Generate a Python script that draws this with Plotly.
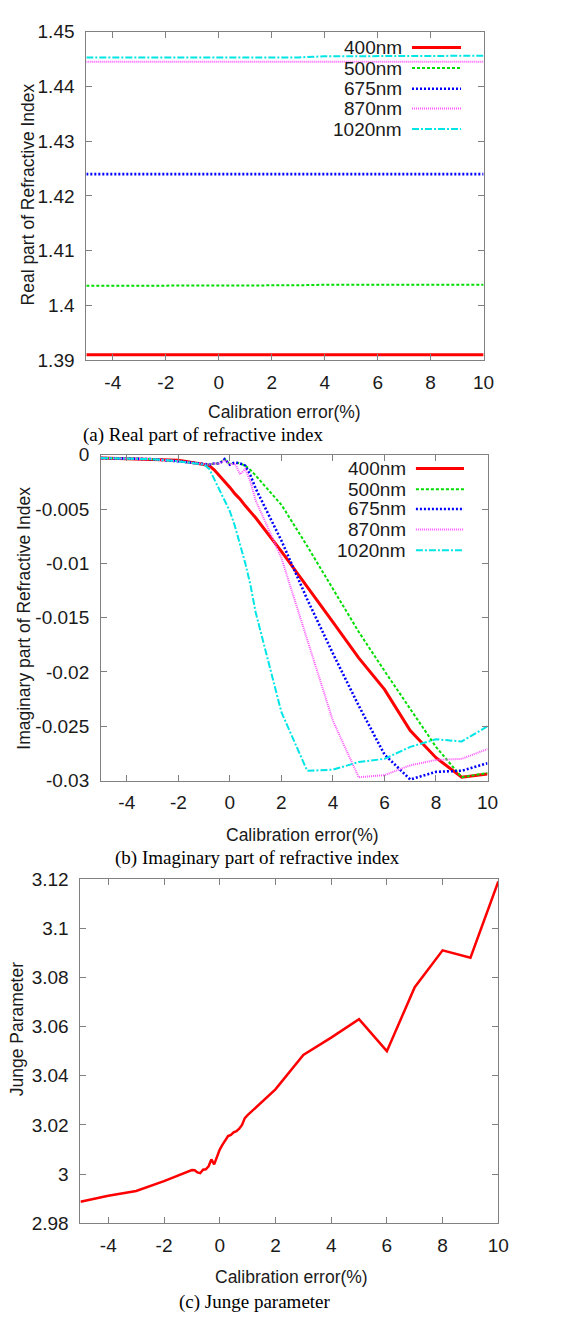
import plotly.graph_objects as go

W, H = 577, 1320

# ---------------- data ----------------
wavelengths = ["400nm", "500nm", "675nm", "870nm", "1020nm"]

# (a) real part of refractive index
x_real = [-5, -4, -3, -2, -1, 0, 1, 2, 3, 4, 5, 6, 7, 8, 9, 10]
real_400 = [1.3910, 1.3910, 1.3910, 1.3910, 1.3910, 1.3910, 1.3910, 1.3910,
            1.3910, 1.3910, 1.3910, 1.3910, 1.3910, 1.3910, 1.3910, 1.3910]
real_500 = [1.4036, 1.4036, 1.4036, 1.4036, 1.4037, 1.4037, 1.4037, 1.4037,
            1.4037, 1.4038, 1.4038, 1.4038, 1.4038, 1.4038, 1.4038, 1.4038]
real_675 = [1.4240, 1.4240, 1.4240, 1.4240, 1.4240, 1.4240, 1.4240, 1.4240,
            1.4240, 1.4240, 1.4240, 1.4240, 1.4240, 1.4240, 1.4240, 1.4240]
real_870 = [1.4445, 1.4445, 1.4445, 1.4445, 1.4445, 1.4445, 1.4445, 1.4445,
            1.4445, 1.4445, 1.4445, 1.4445, 1.4445, 1.4445, 1.4445, 1.4445]
real_1020 = [1.4453, 1.4453, 1.4453, 1.4453, 1.4453, 1.4453, 1.4453, 1.4453,
             1.4453, 1.4455, 1.4455, 1.4456, 1.4456, 1.4456, 1.4456, 1.4456]

# (b) imaginary part of refractive index
x_imag = [-5, -4, -3, -2, -1, -0.8, -0.6, -0.4, -0.2, 0, 0.2, 0.4, 0.6, 0.8,
          1, 2, 3, 4, 5, 6, 7, 8, 9, 10]
imag_400 = [-0.0003, -0.00035, -0.0004, -0.0005, -0.0009, -0.0010, -0.0014,
            -0.0019, -0.0024, -0.0030, -0.0036, -0.0041, -0.0047, -0.0052,
            -0.0058, -0.0089, -0.0121, -0.0154, -0.0187, -0.0216, -0.0254,
            -0.0279, -0.0297, -0.0294]
imag_500 = [-0.0003, -0.00035, -0.0004, -0.0006, -0.0009, -0.0009, -0.0008,
            -0.0008, -0.0004, -0.0009, -0.0007, -0.0008, -0.0010, -0.0014,
            -0.0019, -0.0046, -0.0084, -0.0124, -0.0163, -0.0199, -0.0234,
            -0.0269, -0.0297, -0.0293]
imag_675 = [-0.0003, -0.00035, -0.0004, -0.0006, -0.0009, -0.0009, -0.0008,
            -0.0008, -0.0004, -0.0009, -0.0007, -0.0008, -0.0010, -0.0019,
            -0.0031, -0.0079, -0.0133, -0.0183, -0.0231, -0.0276, -0.0299,
            -0.0292, -0.0291, -0.0284]
imag_870 = [-0.0003, -0.00035, -0.0004, -0.0006, -0.0009, -0.0009, -0.0008,
            -0.0008, -0.0005, -0.0009, -0.0008, -0.0018, -0.0013, -0.0025,
            -0.0042, -0.0095, -0.0170, -0.0245, -0.0297, -0.0295, -0.0286,
            -0.0281, -0.0280, -0.0271]
imag_1020 = [-0.0003, -0.00035, -0.0004, -0.0006, -0.0009, -0.0013, -0.0023,
             -0.0032, -0.0042, -0.0052, -0.0066, -0.0082, -0.0100, -0.0120,
             -0.0145, -0.0237, -0.0291, -0.0290, -0.0283, -0.0280, -0.0269,
             -0.0262, -0.0264, -0.0250]

# (c) Junge parameter
x_junge = [-5, -4, -3, -2, -1, -0.9, -0.8, -0.7, -0.6, -0.5, -0.4, -0.3, -0.2,
           -0.1, 0, 0.1, 0.2, 0.3, 0.4, 0.5, 0.6, 0.7, 0.8, 0.9, 1,
           2, 3, 4, 5, 6, 7, 8, 9, 10]
junge = [2.9888, 2.9912, 2.9932, 2.9972, 3.0017, 3.0016, 3.0007, 3.0004,
         3.0018, 3.0020, 3.0032, 3.0060, 3.0040, 3.0075, 3.0100, 3.0120,
         3.0135, 3.0155, 3.0160, 3.0170, 3.0175, 3.0185, 3.0200, 3.0228,
         3.0240, 3.0345, 3.0485, 3.0555, 3.0630, 3.0500, 3.0760, 3.0910,
         3.0880, 3.1190]

# ticks
x_tickvals = [-4, -2, 0, 2, 4, 6, 8, 10]
x_ticktext = ["-4", "-2", "0", "2", "4", "6", "8", "10"]
real_tickvals = [1.39, 1.40, 1.41, 1.42, 1.43, 1.44, 1.45]
real_ticktext = ["1.39", "1.4", "1.41", "1.42", "1.43", "1.44", "1.45"]
imag_tickvals = [0, -0.005, -0.01, -0.015, -0.02, -0.025, -0.03]
imag_ticktext = ["0", "-0.005", "-0.01", "-0.015", "-0.02", "-0.025", "-0.03"]
junge_tickvals = [2.98, 3.00, 3.02, 3.04, 3.06, 3.08, 3.10, 3.12]
junge_ticktext = ["2.98", "3", "3.02", "3.04", "3.06", "3.08", "3.1", "3.12"]

# ---------------- styling ----------------
SANS = "Liberation Sans, Arial, sans-serif"
SERIF = "Liberation Serif, Times New Roman, serif"
FRAME = "#808080"
TXT = "#1a1a1a"

styles = {
    "400nm": dict(color="#ff0000", width=3, dash="solid"),
    "500nm": dict(color="#00dd00", width=2, dash="3px,2px"),
    "675nm": dict(color="#0000ff", width=2.6, dash="2px,2px"),
    "870nm": dict(color="#ff55ff", width=2, dash="1px,1px"),
    "1020nm": dict(color="#00e5e5", width=2, dash="7px,2px,2px,2px"),
}


def px_x(p):
    return p / W


def px_y(p):
    return 1 - p / H


panels = {
    "a": dict(x0=88, x1=493, y0=22, y1=356),
    "b": dict(x0=103, x1=497, y0=452, y1=783),
    "c": dict(x0=82, x1=508, y0=883, y1=1233),
}

fig = go.Figure()

real_series = [real_400, real_500, real_675, real_870, real_1020]
imag_series = [imag_400, imag_500, imag_675, imag_870, imag_1020]

for name, ys in zip(wavelengths, real_series):
    fig.add_trace(go.Scatter(x=x_real, y=ys, mode="lines", line=styles[name],
                             xaxis="x", yaxis="y", showlegend=False))
for name, ys in zip(wavelengths, imag_series):
    fig.add_trace(go.Scatter(x=x_imag, y=ys, mode="lines", line=styles[name],
                             xaxis="x2", yaxis="y2", showlegend=False))
fig.add_trace(go.Scatter(x=x_junge, y=junge, mode="lines",
                         line=dict(color="#ff0000", width=2.5),
                         xaxis="x3", yaxis="y3", showlegend=False))


def axis_common():
    return dict(showline=True, linecolor=FRAME, linewidth=1, mirror="ticks",
                ticks="inside", ticklen=6, tickcolor=FRAME, tickwidth=1,
                showgrid=False, zeroline=False,
                tickfont=dict(family=SANS, size=19, color=TXT))


layout = dict(width=W, height=H, margin=dict(l=0, r=0, t=0, b=0),
              paper_bgcolor="white", plot_bgcolor="white", showlegend=False)

axis_defs = [
    ("a", "", x_tickvals, x_ticktext, [-5, 10], real_tickvals, real_ticktext, [1.39, 1.45]),
    ("b", "2", x_tickvals, x_ticktext, [-5, 10], imag_tickvals, imag_ticktext, [-0.03, 0]),
    ("c", "3", x_tickvals, x_ticktext, [-5, 10], junge_tickvals, junge_ticktext, [2.98, 3.12]),
]
for key, sfx, xtv, xtt, xr, ytv, ytt, yr in axis_defs:
    p = panels[key]
    xa = axis_common()
    xa.update(domain=[px_x(p["x0"]), px_x(p["x1"])], range=xr, tickvals=xtv,
              ticktext=xtt, anchor="y" + sfx, ticklabelstandoff=5)
    ya = axis_common()
    ya.update(domain=[px_y(p["y1"]), px_y(p["y0"])], range=yr, tickvals=ytv,
              ticktext=ytt, anchor="x" + sfx, ticklabelstandoff=7)
    layout["xaxis" + sfx] = xa
    layout["yaxis" + sfx] = ya

fig.update_layout(**layout)

annotations = []
# axis titles
for cx, cy in [(290, 409), (308, 838), (297, 1287)]:
    annotations.append(dict(text="Calibration error(%)", x=px_x(cx), y=px_y(cy),
                            xref="paper", yref="paper", showarrow=False,
                            xanchor="center", yanchor="middle",
                            font=dict(family=SANS, size=17.5, color=TXT)))
for text, cx, cy in [("Real part of Refractive Index", 29, 187),
                     ("Imaginary part of Refractive Index", 25, 618),
                     ("Junge Parameter", 17, 1036)]:
    annotations.append(dict(text=text, x=px_x(cx), y=px_y(cy), textangle=-90,
                            xref="paper", yref="paper", showarrow=False,
                            xanchor="center", yanchor="middle",
                            font=dict(family=SANS, size=17.5, color=TXT)))
# captions
for text, cx, cy in [("(a) Real part of refractive index", 207, 432),
                     ("(b) Imaginary part of refractive index", 263, 862),
                     ("(c) Junge parameter", 260, 1313)]:
    annotations.append(dict(text=text, x=px_x(cx), y=px_y(cy),
                            xref="paper", yref="paper", showarrow=False,
                            xanchor="center", yanchor="middle",
                            font=dict(family=SERIF, size=19, color="#000000")))

# legend keys drawn inside panels (a) and (b)
shapes = []
legend_boxes = [
    dict(tx=412, lx0=420, lx1=470, rows=[38, 59, 80, 100, 121]),
    dict(tx=416, lx0=424, lx1=473, rows=[466, 487, 507, 528, 549]),
]
for box in legend_boxes:
    for name, ry in zip(wavelengths, box["rows"]):
        annotations.append(dict(text=name, x=px_x(box["tx"]), y=px_y(ry),
                                xref="paper", yref="paper", showarrow=False,
                                xanchor="right", yanchor="middle",
                                font=dict(family=SANS, size=19, color=TXT)))
        shapes.append(dict(type="line", xref="paper", yref="paper",
                           x0=px_x(box["lx0"]), x1=px_x(box["lx1"]),
                           y0=px_y(ry), y1=px_y(ry), line=styles[name]))

fig.update_layout(annotations=annotations, shapes=shapes)
fig.write_html("out.html")
